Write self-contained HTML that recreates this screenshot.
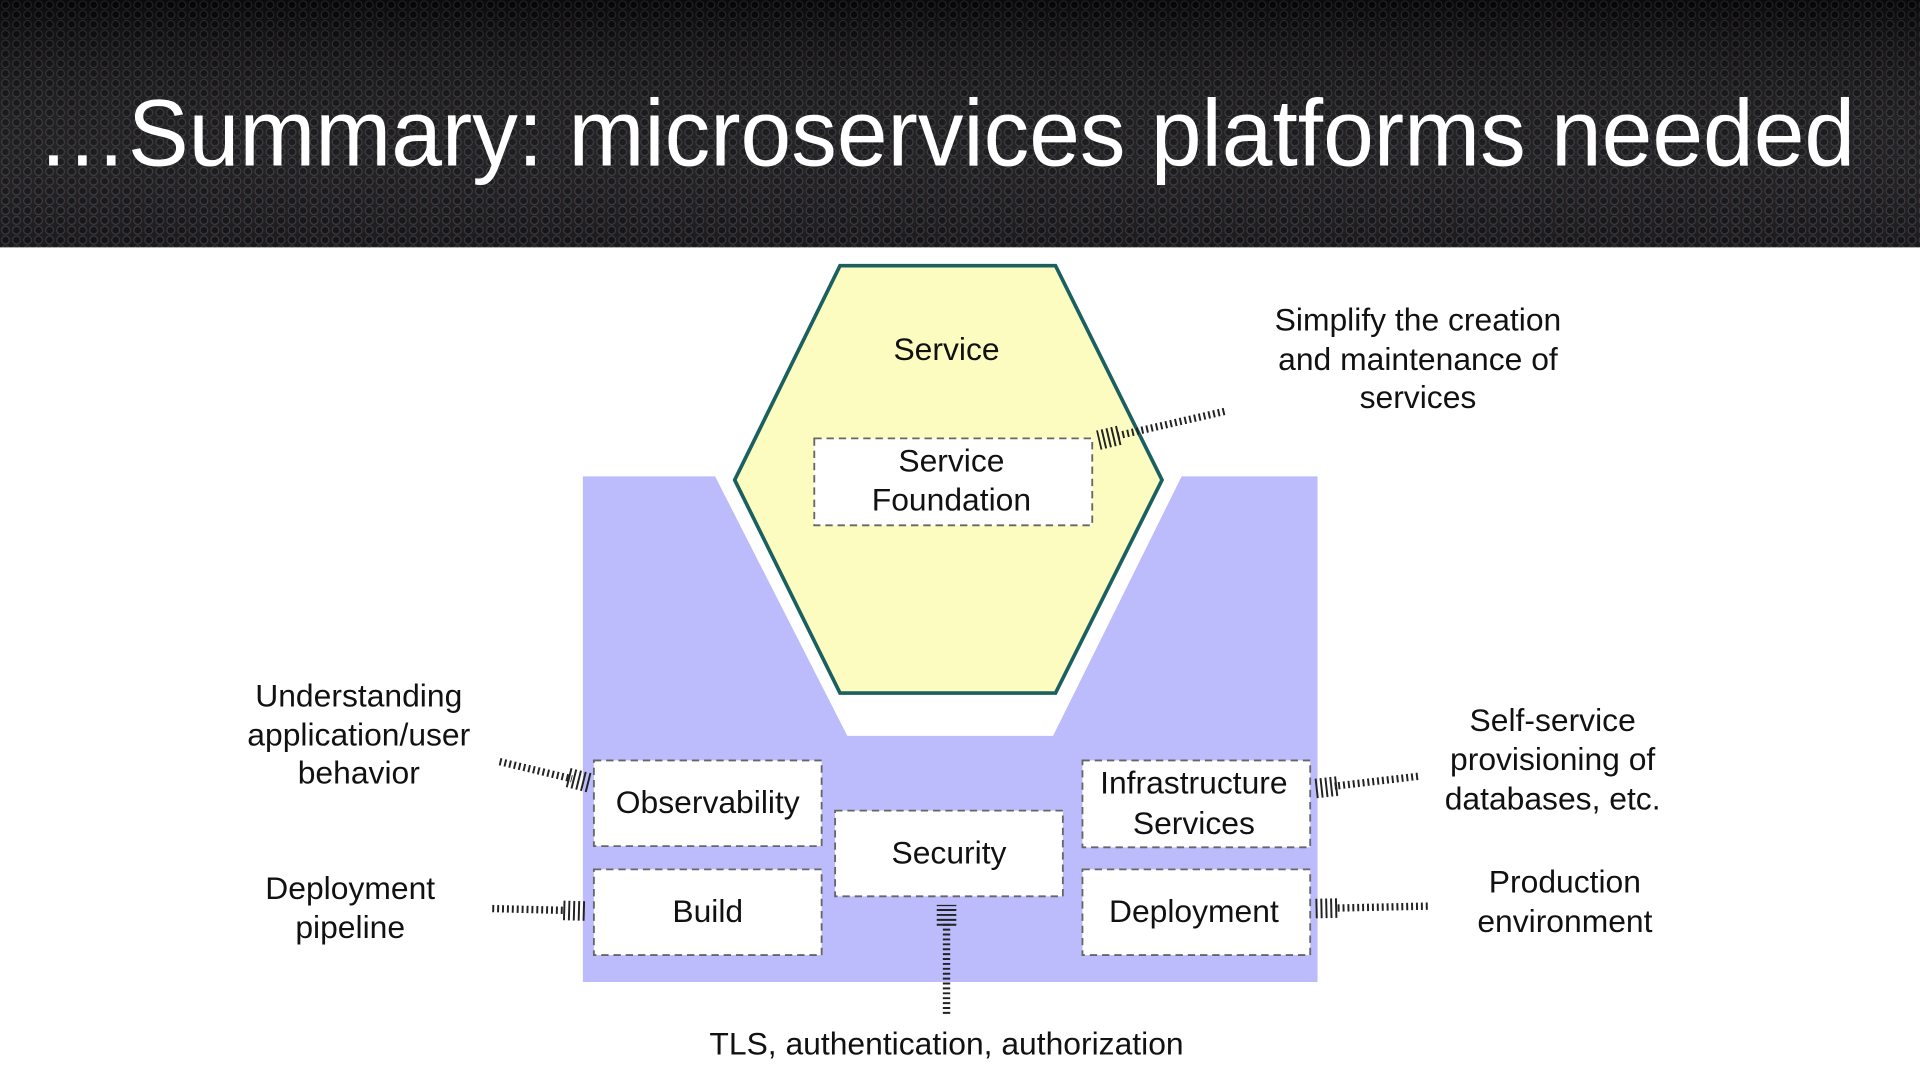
<!DOCTYPE html>
<html><head><meta charset="utf-8"><style>
html,body{margin:0;padding:0;width:1920px;height:1080px;overflow:hidden;background:#fff}
svg{display:block}
</style></head><body>
<svg width="1920" height="1080" viewBox="0 0 1568 882" xmlns="http://www.w3.org/2000/svg">
<defs>
<pattern id="hex" width="9" height="8" patternUnits="userSpaceOnUse">
<rect width="9" height="8" fill="#120e10"/>
<circle cx="4.5" cy="4" r="3.2" fill="#080607" stroke="#2c3038" stroke-width="0.9"/>
</pattern>
<linearGradient id="shade" x1="0" y1="0" x2="0" y2="1">
<stop offset="0" stop-color="#000" stop-opacity="0.3"/>
<stop offset="1" stop-color="#fff" stop-opacity="0.05"/>
</linearGradient>
</defs>
<rect x="0" y="0" width="1568" height="202" fill="url(#hex)"/>
<rect x="0" y="0" width="1568" height="202" fill="url(#shade)"/>
<text x="30" y="135" font-family="Liberation Sans, sans-serif" font-size="77" fill="#fff" textLength="1485" lengthAdjust="spacingAndGlyphs">…Summary: microservices platforms needed</text>

<path d="M476,389 L584,389 L692,601 L860,601 L965,389 L1076,389 L1076,802 L476,802 Z" fill="#bcbcfc"/>
<polygon points="686,217 862,217 949,392 862,566 686,566 600,392" fill="#fcfcc0" stroke="#1a6060" stroke-width="3"/>

<g fill="#fff" stroke="#666" stroke-width="1.5" stroke-dasharray="6 4">
<rect x="665" y="358" width="227" height="71"/>
<rect x="485" y="621" width="186" height="70"/>
<rect x="485" y="710" width="186" height="70"/>
<rect x="682" y="662" width="186" height="70"/>
<rect x="884" y="621" width="186" height="71"/>
<rect x="884" y="710" width="186" height="70"/>
</g>

<g font-family="Liberation Sans, sans-serif" font-size="26" fill="#111" text-anchor="middle">
<text x="773" y="294">Service</text>
<text x="777" y="385">Service</text>
<text x="777" y="417">Foundation</text>
<text x="578" y="664">Observability</text>
<text x="578" y="753">Build</text>
<text x="775" y="705">Security</text>
<text x="975" y="648">Infrastructure</text>
<text x="975" y="681">Services</text>
<text x="975" y="753">Deployment</text>
<text x="293" y="577">Understanding</text>
<text x="293" y="609">application/user</text>
<text x="293" y="640">behavior</text>
<text x="286" y="734">Deployment</text>
<text x="286" y="766">pipeline</text>
<text x="1158" y="270">Simplify the creation</text>
<text x="1158" y="302">and maintenance of</text>
<text x="1158" y="333">services</text>
<text x="1268" y="597">Self-service</text>
<text x="1268" y="629">provisioning of</text>
<text x="1268" y="661">databases, etc.</text>
<text x="1278" y="729">Production</text>
<text x="1278" y="761">environment</text>
<text x="773" y="861">TLS, authentication, authorization</text>
</g>

<g stroke="#222" fill="none">
<g stroke-width="6" stroke-dasharray="1.6 2.4">
<line x1="408" y1="622" x2="467" y2="636"/>
<line x1="402" y1="742" x2="462" y2="743.5"/>
<line x1="1158" y1="634" x2="1090" y2="642"/>
<line x1="1166" y1="740" x2="1090" y2="741.6"/>
<line x1="773" y1="828" x2="773" y2="753"/>
<line x1="1000" y1="336" x2="912" y2="356"/>
</g>
<g stroke-width="16" stroke-dasharray="1.6 2.4">
<line x1="464" y1="635" x2="482" y2="639.5"/>
<line x1="460" y1="743.5" x2="478" y2="744"/>
<line x1="1092" y1="642" x2="1074" y2="644"/>
<line x1="1092" y1="741.6" x2="1074" y2="742"/>
<line x1="773" y1="756" x2="773" y2="739"/>
<line x1="914" y1="355.5" x2="897" y2="359.5"/>
</g>
</g>
</svg>
</body></html>
